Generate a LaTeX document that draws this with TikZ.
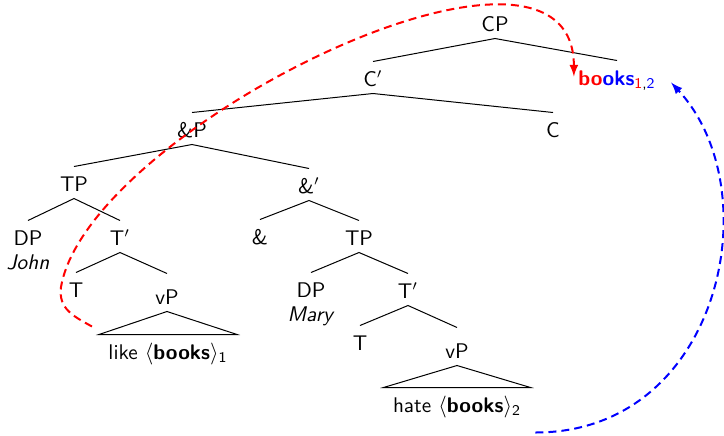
\documentclass[tikz,border=0pt]{standalone}
\usepackage{tikz}
\usetikzlibrary{arrows}
\renewcommand{\familydefault}{\sfdefault}
\tikzstyle{cat} = [anchor=base, inner sep=2pt, text height=10pt, text depth=1.5pt, font=\fontsize{10.6}{13}\selectfont]
\tikzstyle{phrase} = [cat, text height=13pt]
\tikzstyle{leaf} = [cat, inner xsep=4.5pt]
\tikzstyle{move} = [line width=1pt, dash pattern=on 4pt off 2.5pt, ->, >=latex]

\begin{document}
\begin{tikzpicture}[x=0.5pt, y=-0.5pt, line width=0.5pt]
\useasboundingbox (0,0) rectangle (724,435);
% top of the tree
\node (cp) [cat] at (495,31) {CP};
\node (cbar) [cat] at (373,86) {C$'$};
\node (books) [cat] at (617,85) {\textbf{{\color{red}bo}{\color{blue}oks}}\textsubscript{{\color{red}1},{\color{blue}2}}};
\node (andp) [cat] at (192,137) {\&P};
\node (c) [cat] at (553,137) {C};
% first conjunct
\node (tp1) [cat] at (74,191) {TP};
\node (dp1) [cat] at (28,245) {DP};
\node (john) [cat] at (28,269) {\textsl{John}};
\node (tbar1) [cat] at (120,245) {T$'$};
\node (t1) [cat] at (76,297) {T};
\node (vp1) [phrase] at (167,304) {vP};
\node (like) [leaf] at (168,359) {like $\langle$\textbf{books}$\rangle$\textsubscript{1}};
% second conjunct
\node (andbar) [cat] at (309,193) {\&$'$};
\node (and) [cat] at (260,244) {\&};
\node (tp2) [cat] at (359,245) {TP};
\node (dp2) [cat] at (311,297) {DP};
\node (mary) [cat] at (311,321) {\textsl{Mary}};
\node (tbar2) [cat] at (408,298) {T$'$};
\node (t2) [cat] at (360,350) {T};
\node (vp2) [phrase] at (457,358) {vP};
\node (hate) [leaf] at (457,412) {hate $\langle$\textbf{books}$\rangle$\textsubscript{2}};

\draw (cbar.north) -- (cp.south) -- (books.north);
\draw (andp.north) -- (cbar.south) -- (c.north);
\draw (tp1.north) -- (andp.south) -- (andbar.north);
\draw (dp1.north) -- (tp1.south) -- (tbar1.north);
\draw (t1.north) -- (tbar1.south) -- (vp1.north);
\draw (vp1.south) -- (like.north west) -- (like.north east) -- cycle;
\draw (and.north) -- (andbar.south) -- (tp2.north);
\draw (dp2.north) -- (tp2.south) -- (tbar2.north);
\draw (t2.north) -- (tbar2.south) -- (vp2.north);
\draw (vp2.south) -- (hate.north west) -- (hate.north east) -- cycle;

% movement of the shared object
\coordinate (turn) at (61,287);
\draw [move, red] ([shift={(-7,-8)}]like.north west) .. controls +(-18,-10) and +(-3,22) .. (turn)
  .. controls +(27,-158) and +(0,-186) .. (books.west);
\draw [move, blue] ([shift={(5,13)}]hate.south east) .. controls +(185,0) and +(100,108) .. ([shift={(11,6)}]books.east);
\end{tikzpicture}
\end{document}
